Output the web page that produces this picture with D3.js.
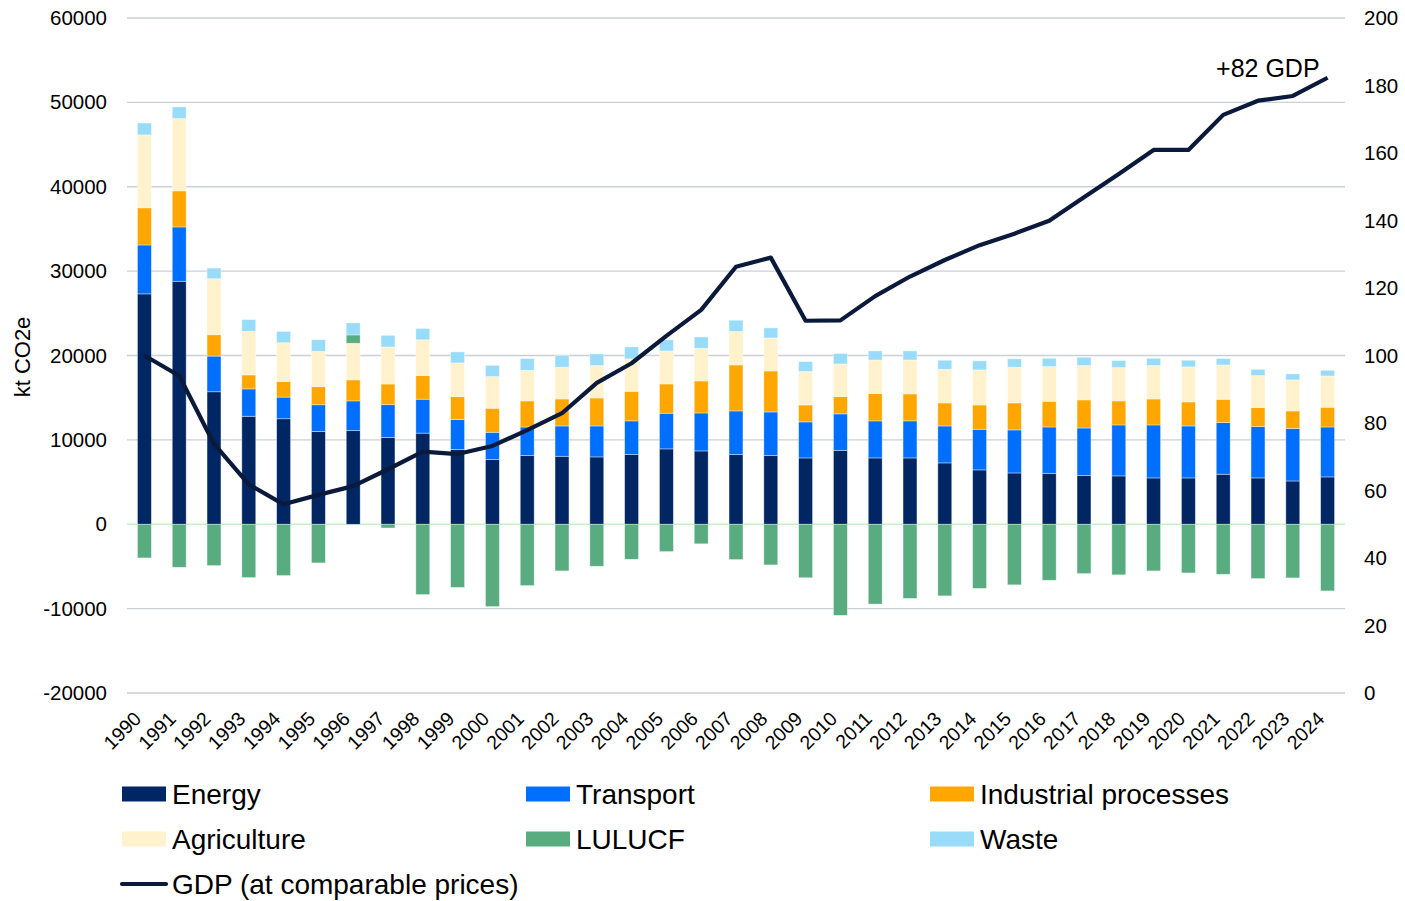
<!DOCTYPE html>
<html>
<head>
<meta charset="utf-8">
<script src="https://cdn.jsdelivr.net/npm/d3@7"></script>
<style>
    html, body { margin: 0; padding: 0; background: #fff; }
    svg { display: block; font-family: 'Liberation Sans', Arial, sans-serif; }
</style>
</head>
<body>
<svg class="chart" width="1405" height="901"></svg>
<script>
'use strict';

const YEARS = ['1990', '1991', '1992', '1993', '1994', '1995', '1996', '1997', '1998', '1999',
    '2000', '2001', '2002', '2003', '2004', '2005', '2006', '2007', '2008', '2009',
    '2010', '2011', '2012', '2013', '2014', '2015', '2016', '2017', '2018', '2019',
    '2020', '2021', '2022', '2023', '2024'];

const ENERGY = [27300, 28800, 15700, 12800, 12500, 11000, 11100, 10300, 10800, 8850,
    7660, 8140, 8060, 7980, 8260, 8930, 8690, 8260, 8140, 7860,
    8730, 7860, 7860, 7270, 6440, 6080, 6040, 5770, 5730, 5490,
    5490, 5930, 5490, 5130, 5610];

const TRANSPORT = [5800, 6440, 4230, 3240, 2570, 3160, 3520, 3870, 4020, 3550,
    3240, 3390, 3590, 3670, 3990, 4230, 4500, 5170, 5170, 4270,
    4350, 4390, 4390, 4380, 4820, 5100, 5490, 5640, 6040, 6280,
    6160, 6120, 6080, 6210, 5920];

const INDUSTRIAL = [4400, 4270, 2530, 1660, 1860, 2140, 2490, 2450, 2810, 2730,
    2850, 3090, 3200, 3320, 3510, 3470, 3800, 5450, 4860, 2010,
    2050, 3240, 3200, 2730, 2880, 3200, 3050, 3330, 2850, 3080,
    2850, 2760, 2260, 2090, 2340];

const AGRICULTURE = [8650, 8570, 6640, 5170, 4580, 4190, 4340, 4390, 4230, 3990,
    3750, 3630, 3760, 3840, 3840, 3910, 3870, 3960, 3910, 3960,
    3870, 3980, 4020, 3990, 4150, 4230, 4110, 4070, 3950, 3960,
    4150, 4070, 3790, 3680, 3710];

const LULUCF = [-3990, -5100, -4900, -6320, -6080, -4580, 990, -440, -8340, -7490,
    -9760, -7270, -5530, -4980, -4150, -3240, -2320, -4190, -4820, -6340,
    -10800, -9460, -8790, -8490, -7600, -7180, -6640, -5850, -6000, -5530,
    -5770, -5930, -6440, -6360, -7900];

const WASTE = [1400, 1380, 1260, 1390, 1340, 1380, 1420, 1380, 1340, 1310,
    1340, 1390, 1390, 1380, 1420, 1310, 1340, 1340, 1190, 1180,
    1230, 1070, 1070, 1070, 1070, 990, 980, 980, 830, 860,
    790, 760, 750, 700, 670];

const GDP = [100, 94, 73.8, 61.8, 55.9, 58.7, 61.3, 66.3, 71.5, 70.8,
    73.2, 77.9, 82.9, 91.9, 97.7, 105.8, 113.5, 126.3, 129.0, 110.3,
    110.4, 117.6, 123.4, 128.3, 132.7, 136.1, 139.9, 146.9, 153.8, 160.9,
    160.9, 171.3, 175.5, 176.9, 182.3];

const SERIES_KEYS = ['Energy', 'Transport', 'Industrial processes', 'Agriculture', 'LULUCF', 'Waste'];
const SERIES_VALUES = [ENERGY, TRANSPORT, INDUSTRIAL, AGRICULTURE, LULUCF, WASTE];
const SERIES_COLORS = ['#002664', '#006ffd', '#ffa700', '#fff2cc', '#59ab80', '#98dcfa'];
const GDP_LABEL = 'GDP (at comparable prices)';
const GDP_COLOR = '#0b1a3b';
const GDP_NOTE = '+82 GDP';

const LEFT_TICKS = [-20000, -10000, 0, 10000, 20000, 30000, 40000, 50000, 60000];
const RIGHT_TICKS = [0, 20, 40, 60, 80, 100, 120, 140, 160, 180, 200];
const Y_TITLE = 'kt CO2e';

window.addEventListener('DOMContentLoaded', () => {
    const { d3 } = window;

    const svg = d3.select('svg.chart');
    const LEFT = 127;
    const RIGHT = 1345;
    const TOP = 18;
    const BOTTOM = 693;

    // scales
    const xScale = d3.scaleBand().domain(YEARS).range([LEFT, RIGHT]).paddingInner(0.6).paddingOuter(0.3);
    const yLeft = d3.scaleLinear().domain([-20000, 60000]).range([BOTTOM, TOP]);
    const yRight = d3.scaleLinear().domain([0, 200]).range([BOTTOM, TOP]);

    // rows for the stack
    const rows = YEARS.map((year, i) => {
        const row = { year };
        SERIES_KEYS.forEach((key, k) => { row[key] = SERIES_VALUES[k][i]; });
        return row;
    });
    const stacked = d3.stack().keys(SERIES_KEYS).offset(d3.stackOffsetDiverging)(rows);

    // gridlines
    svg.append('g')
        .selectAll('line')
        .data(LEFT_TICKS)
        .join('line')
        .attr('x1', LEFT)
        .attr('x2', RIGHT)
        .attr('y1', (d) => yLeft(d))
        .attr('y2', (d) => yLeft(d))
        .attr('stroke', (d) => (d === 0 ? '#c4f2c4' : '#c9d0d8'))
        .attr('stroke-width', 1.3);

    // bars
    svg.append('g')
        .selectAll('g')
        .data(stacked)
        .join('g')
        .attr('fill', (d, i) => SERIES_COLORS[i])
        .selectAll('rect')
        .data((d) => d)
        .join('rect')
        .attr('x', (d) => xScale(d.data.year))
        .attr('width', xScale.bandwidth())
        .attr('y', (d) => yLeft(Math.max(d[0], d[1])))
        .attr('height', (d) => Math.abs(yLeft(d[0]) - yLeft(d[1])))
        .attr('stroke', 'rgba(255,255,255,0.55)')
        .attr('stroke-width', 0.7);

    // GDP line
    const line = d3.line()
        .x((d, i) => xScale(YEARS[i]) + xScale.bandwidth() / 2)
        .y((d) => yRight(d));

    svg.append('path')
        .datum(GDP)
        .attr('d', line)
        .attr('fill', 'none')
        .attr('stroke', GDP_COLOR)
        .attr('stroke-width', 4.2)
        .attr('stroke-linejoin', 'round');

    const last = GDP.length - 1;
    svg.append('text')
        .attr('x', xScale(YEARS[last]) + xScale.bandwidth() / 2 - 8)
        .attr('y', yRight(GDP[last]) - 1)
        .attr('text-anchor', 'end')
        .attr('font-size', 25)
        .attr('fill', '#000')
        .text(GDP_NOTE);

    // left axis
    const leftAxis = svg.append('g')
        .attr('transform', `translate(${LEFT},0)`)
        .call(d3.axisLeft(yLeft).tickValues(LEFT_TICKS).tickSize(0).tickPadding(20).tickFormat((d) => String(d)));
    leftAxis.select('.domain').remove();
    leftAxis.selectAll('text').attr('font-size', 20.5).attr('fill', '#000').attr('font-family', null);

    // right axis
    const rightAxis = svg.append('g')
        .attr('transform', `translate(${RIGHT},0)`)
        .call(d3.axisRight(yRight).tickValues(RIGHT_TICKS).tickSize(0).tickPadding(19).tickFormat((d) => String(d)));
    rightAxis.select('.domain').remove();
    rightAxis.selectAll('text').attr('font-size', 20.5).attr('fill', '#000').attr('font-family', null);

    // year labels
    svg.append('g')
        .selectAll('text')
        .data(YEARS)
        .join('text')
        .attr('transform', (d) => `translate(${xScale(d) + xScale.bandwidth() / 2 - 2},720) rotate(-45)`)
        .attr('text-anchor', 'end')
        .attr('font-size', 19.5)
        .attr('fill', '#000')
        .text((d) => d);

    // y title
    svg.append('text')
        .attr('transform', 'translate(22,357) rotate(-90)')
        .attr('text-anchor', 'middle')
        .attr('dy', '0.35em')
        .attr('font-size', 22)
        .attr('fill', '#000')
        .text(Y_TITLE);

    // legend
    const LEGEND_X = [122, 526, 930];
    const LEGEND_Y = [794, 839, 884];
    const legendItems = SERIES_KEYS.map((key, i) => ({ key, color: SERIES_COLORS[i], type: 'rect' }));
    legendItems.push({ key: GDP_LABEL, color: GDP_COLOR, type: 'line' });

    const legend = svg.append('g')
        .selectAll('g')
        .data(legendItems)
        .join('g')
        .attr('transform', (d, i) => `translate(${LEGEND_X[i % 3]},${LEGEND_Y[Math.floor(i / 3)]})`);

    legend.filter((d) => d.type === 'rect')
        .append('rect')
        .attr('x', 0)
        .attr('y', -7.5)
        .attr('width', 44)
        .attr('height', 15)
        .attr('fill', (d) => d.color);

    legend.filter((d) => d.type === 'line')
        .append('line')
        .attr('x1', 0)
        .attr('x2', 44)
        .attr('y1', 0)
        .attr('y2', 0)
        .attr('stroke', (d) => d.color)
        .attr('stroke-width', 4.2)
        .attr('stroke-linecap', 'round');

    legend.append('text')
        .attr('x', 50)
        .attr('dy', '0.35em')
        .attr('font-size', 28)
        .attr('fill', '#000')
        .text((d) => d.key);
});
</script>
</body>
</html>
